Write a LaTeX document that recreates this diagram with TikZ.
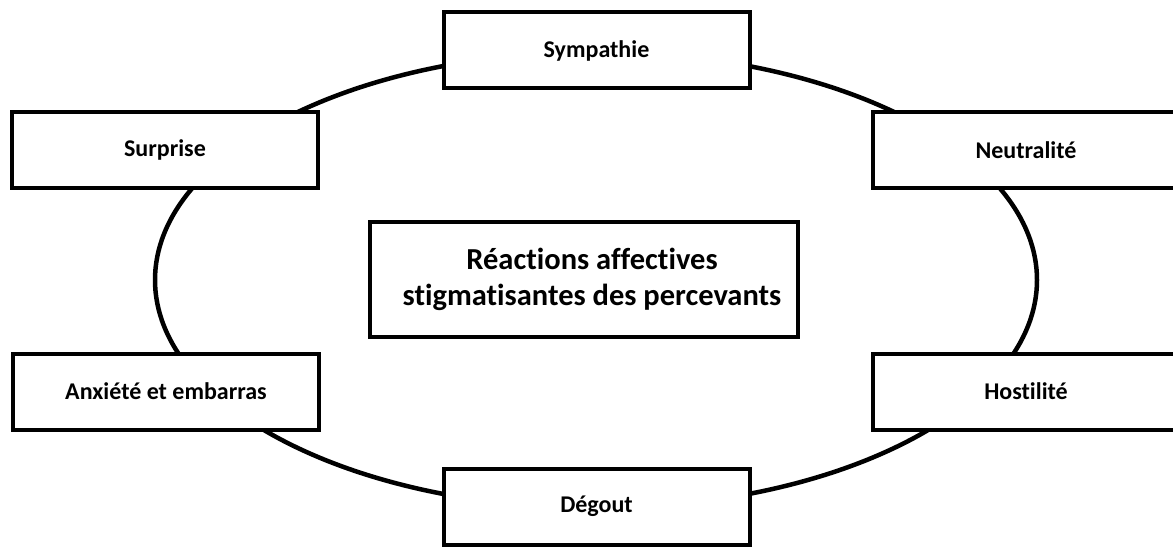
\documentclass[tikz,border=0pt]{standalone}
\usepackage{fontspec}
\setmainfont[Ligatures=NoCommon]{Carlito}
\begin{document}
\begin{tikzpicture}[x=1pt,y=-1pt,
  lab/.style={draw=black, line width=4pt, fill=white, minimum width=306pt, minimum height=76pt, inner sep=0pt, font=\fontsize{24}{29}\selectfont\bfseries},
  core/.style={draw=black, line width=4pt, fill=white, minimum width=428pt, minimum height=114pt, inner sep=0pt},
  coretext/.style={align=center, inner sep=0pt, font=\fontsize{30.5}{36}\selectfont\bfseries},
  ring/.style={draw=black, line width=4.5pt}]
\useasboundingbox (0,0) rectangle (1173,548);
\clip (0,0) rectangle (1173,548);
\coordinate (c) at (596,280);
\draw[ring] (c) ellipse [x radius=441pt, y radius=228pt];
\node[lab] (symp) at (596.5,50.5) {Sympathie};
\node[lab] (surp) at (165,150) {Surprise};
\node[lab] (neut) at (1026,150.5) {Neutralité};
\node[lab] (anx) at (166,391.5) {Anxiété et embarras};
\node[lab] (host) at (1026,391.5) {Hostilité};
\node[lab] (deg) at (596.5,506.5) {Dégout};
\node[core] (main) at (584,279.5) {};
\node[coretext] (maintitle) at ([xshift=8pt]main.center) {Réactions affectives\\stigmatisantes des percevants};
\end{tikzpicture}
\end{document}
